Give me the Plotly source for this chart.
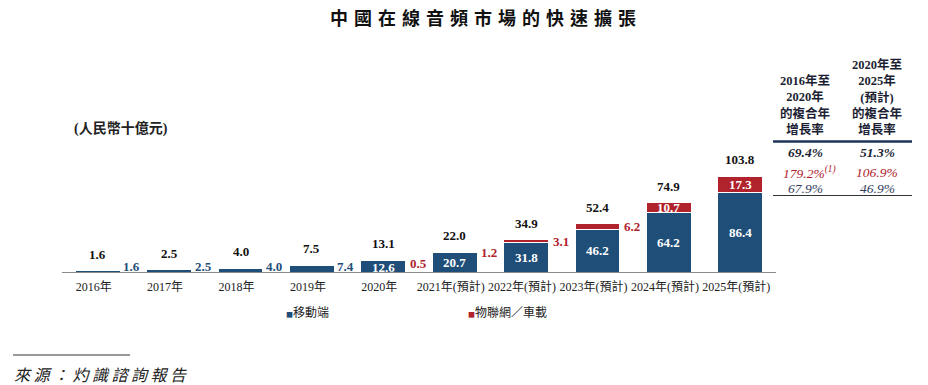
import plotly.graph_objects as go

# ---- data ----
years = ["2016年", "2017年", "2018年", "2019年", "2020年",
         "2021年(預計)", "2022年(預計)", "2023年(預計)", "2024年(預計)", "2025年(預計)"]
mobile = [1.6, 2.5, 4.0, 7.4, 12.6, 20.7, 31.8, 46.2, 64.2, 86.4]
iot = [0.0, 0.0, 0.0, 0.1, 0.5, 1.2, 3.1, 6.2, 10.7, 17.3]
totals = [1.6, 2.5, 4.0, 7.5, 13.1, 22.0, 34.9, 52.4, 74.9, 103.8]
series_names = ["移動端", "物聯網／車載"]
cagr_headers = ["2016年至<br>2020年<br>的複合年<br>增長率", "2020年至<br>2025年<br>(預計)<br>的複合年<br>增長率"]
cagr_total = ["69.4%", "51.3%"]
cagr_iot = ["179.2%<sup>(1)</sup>", "106.9%"]
cagr_mobile = ["67.9%", "46.9%"]
title = "中國在線音頻市場的快速擴張"
unit = "(人民幣十億元)"
source = "來源：灼識諮詢報告"

NAVY = "#1F4E79"
RED = "#B0222C"
DARK = "#1c1f33"
SERIF = "Liberation Serif, 'Noto Sans CJK TC', serif"
CJK = "'Noto Sans CJK TC', sans-serif"

W, H = 928, 385
L, R, T, B = 62, 776, 166, 272
BW = 0.63
x = list(range(len(years)))


def px(v):
    return (v - L) / (R - L)


def py(v):
    return (B - v) / (B - T)


fig = go.Figure()
fig.add_bar(x=x, y=mobile, name=series_names[0], marker=dict(color=NAVY, line=dict(color="white", width=1)),
            width=BW, showlegend=False)
fig.add_bar(x=x, y=iot, name=series_names[1], marker=dict(color=RED, line=dict(color="white", width=1)),
            width=BW, showlegend=False)

ann = []
for i in x:
    # totals
    ann.append(dict(x=i, y=totals[i], xref="x", yref="y", text=f"<b>{totals[i]:.1f}</b>", showarrow=False,
                    xanchor="center", yanchor="bottom", yshift=7, font=dict(family=SERIF, size=13, color="#111111")))
    # mobile
    if i < 4:
        ann.append(dict(x=i + BW / 2, y=0, xref="x", yref="y", text=f"<b>{mobile[i]:.1f}</b>", showarrow=False,
                        xanchor="left", yanchor="middle", xshift=1, yshift=6,
                        font=dict(family=SERIF, size=13, color=NAVY)))
    else:
        ann.append(dict(x=i, y=mobile[i] / 2, xref="x", yref="y", text=f"<b>{mobile[i]:.1f}</b>", showarrow=False,
                        xanchor="center", yanchor="middle", yshift=-1 if i == 4 else 0,
                        font=dict(family=SERIF, size=13, color="white")))
    # iot
    if 4 <= i < 8:
        ann.append(dict(x=i + BW / 2, y=mobile[i] + iot[i] / 2, xref="x", yref="y", text=f"<b>{iot[i]:.1f}</b>",
                        showarrow=False, xanchor="left", yanchor="middle", xshift=2,
                        yshift=-3 if i == 4 else 0,
                        font=dict(family=SERIF, size=13, color=RED)))
    elif i >= 8:
        ann.append(dict(x=i, y=mobile[i] + iot[i] / 2, xref="x", yref="y", text=f"<b>{iot[i]:.1f}</b>",
                        showarrow=False, xanchor="center", yanchor="middle",
                        font=dict(family=SERIF, size=13, color="white")))

# title
ann.append(dict(x=px(486), y=py(17), xref="paper", yref="paper", showarrow=False, xanchor="center", yanchor="middle",
                text=f"<b><span style='letter-spacing:6px'>{title}</span></b>",
                font=dict(family=CJK, size=18, color="#111111")))
# unit
ann.append(dict(x=px(72), y=py(128), xref="paper", yref="paper", showarrow=False, xanchor="left", yanchor="middle",
                text=f"<b>{unit}</b>", font=dict(family=SERIF, size=14, color="#222222")))

# table
cols = [805, 877]
for c in range(2):
    ann.append(dict(x=px(cols[c]), y=py(139), xref="paper", yref="paper", showarrow=False, xanchor="center",
                    yanchor="bottom", text=f"<b>{cagr_headers[c]}</b>", align="center",
                    font=dict(family=SERIF, size=12.5, color=DARK)))
    ann.append(dict(x=px(cols[c]), y=py(152), xref="paper", yref="paper", showarrow=False, xanchor="center",
                    yanchor="middle", text=f"<b><i>{cagr_total[c]}</i></b>",
                    font=dict(family=SERIF, size=13.5, color=DARK)))
    ann.append(dict(x=px(cols[c] + (4 if c == 0 else 0)), y=py(172), xref="paper", yref="paper", showarrow=False,
                    xanchor="center", yanchor="middle", text=f"<i>{cagr_iot[c]}</i>",
                    font=dict(family=SERIF, size=13.5, color=RED)))
    ann.append(dict(x=px(cols[c]), y=py(188), xref="paper", yref="paper", showarrow=False, xanchor="center",
                    yanchor="middle", text=f"<i>{cagr_mobile[c]}</i>",
                    font=dict(family=SERIF, size=13.5, color="#34405e")))

# legend
ann.append(dict(x=px(284), y=py(311), xref="paper", yref="paper", showarrow=False, xanchor="left", yanchor="middle",
                text=f"<span style='color:{NAVY};font-size:7px'>■</span>{series_names[0]}",
                font=dict(family=CJK, size=12, color="#222222")))
ann.append(dict(x=px(466), y=py(311), xref="paper", yref="paper", showarrow=False, xanchor="left", yanchor="middle",
                text=f"<span style='color:{RED};font-size:7px'>■</span>{series_names[1]}",
                font=dict(family=CJK, size=12, color="#222222")))
# source
ann.append(dict(x=px(12), y=py(374), xref="paper", yref="paper", showarrow=False, xanchor="left", yanchor="middle",
                text=f"<i><span style='letter-spacing:3.5px'>{source}</span></i>",
                font=dict(family=CJK, size=16, color="#222222")))

shapes = [
    dict(type="line", xref="paper", yref="paper", x0=px(773), x1=px(912), y0=py(141.5), y1=py(141.5),
         line=dict(color="#1d3557", width=2.5)),
    dict(type="line", xref="paper", yref="paper", x0=px(773), x1=px(912), y0=py(195.5), y1=py(195.5),
         line=dict(color="#333333", width=1)),
    dict(type="line", xref="paper", yref="paper", x0=px(13), x1=px(130), y0=py(355), y1=py(355),
         line=dict(color="#333333", width=1)),
]

fig.update_layout(
    width=W, height=H, barmode="stack", bargap=0.37,
    margin=dict(l=L, r=W - R, t=T, b=H - B, pad=0, autoexpand=False),
    plot_bgcolor="white", paper_bgcolor="white",
    annotations=ann, shapes=shapes,
    xaxis=dict(range=[-0.5, 9.5], tickvals=x, ticktext=years, showline=True, linecolor="#8a8a8a", linewidth=1,
               ticks="", showgrid=False, zeroline=False, ticklabelshift=-4, ticklabelstandoff=4, tickangle=0,
               automargin=False, tickfont=dict(family=SERIF, size=12, color="#222222")),
    yaxis=dict(range=[0, (B - T) / 0.925], visible=False, showgrid=False, zeroline=False),
    font=dict(family=SERIF),
)

fig.write_html("out.html", config={"displayModeBar": False},
               post_script="document.body.style.margin='0';document.body.style.overflow='hidden';")
